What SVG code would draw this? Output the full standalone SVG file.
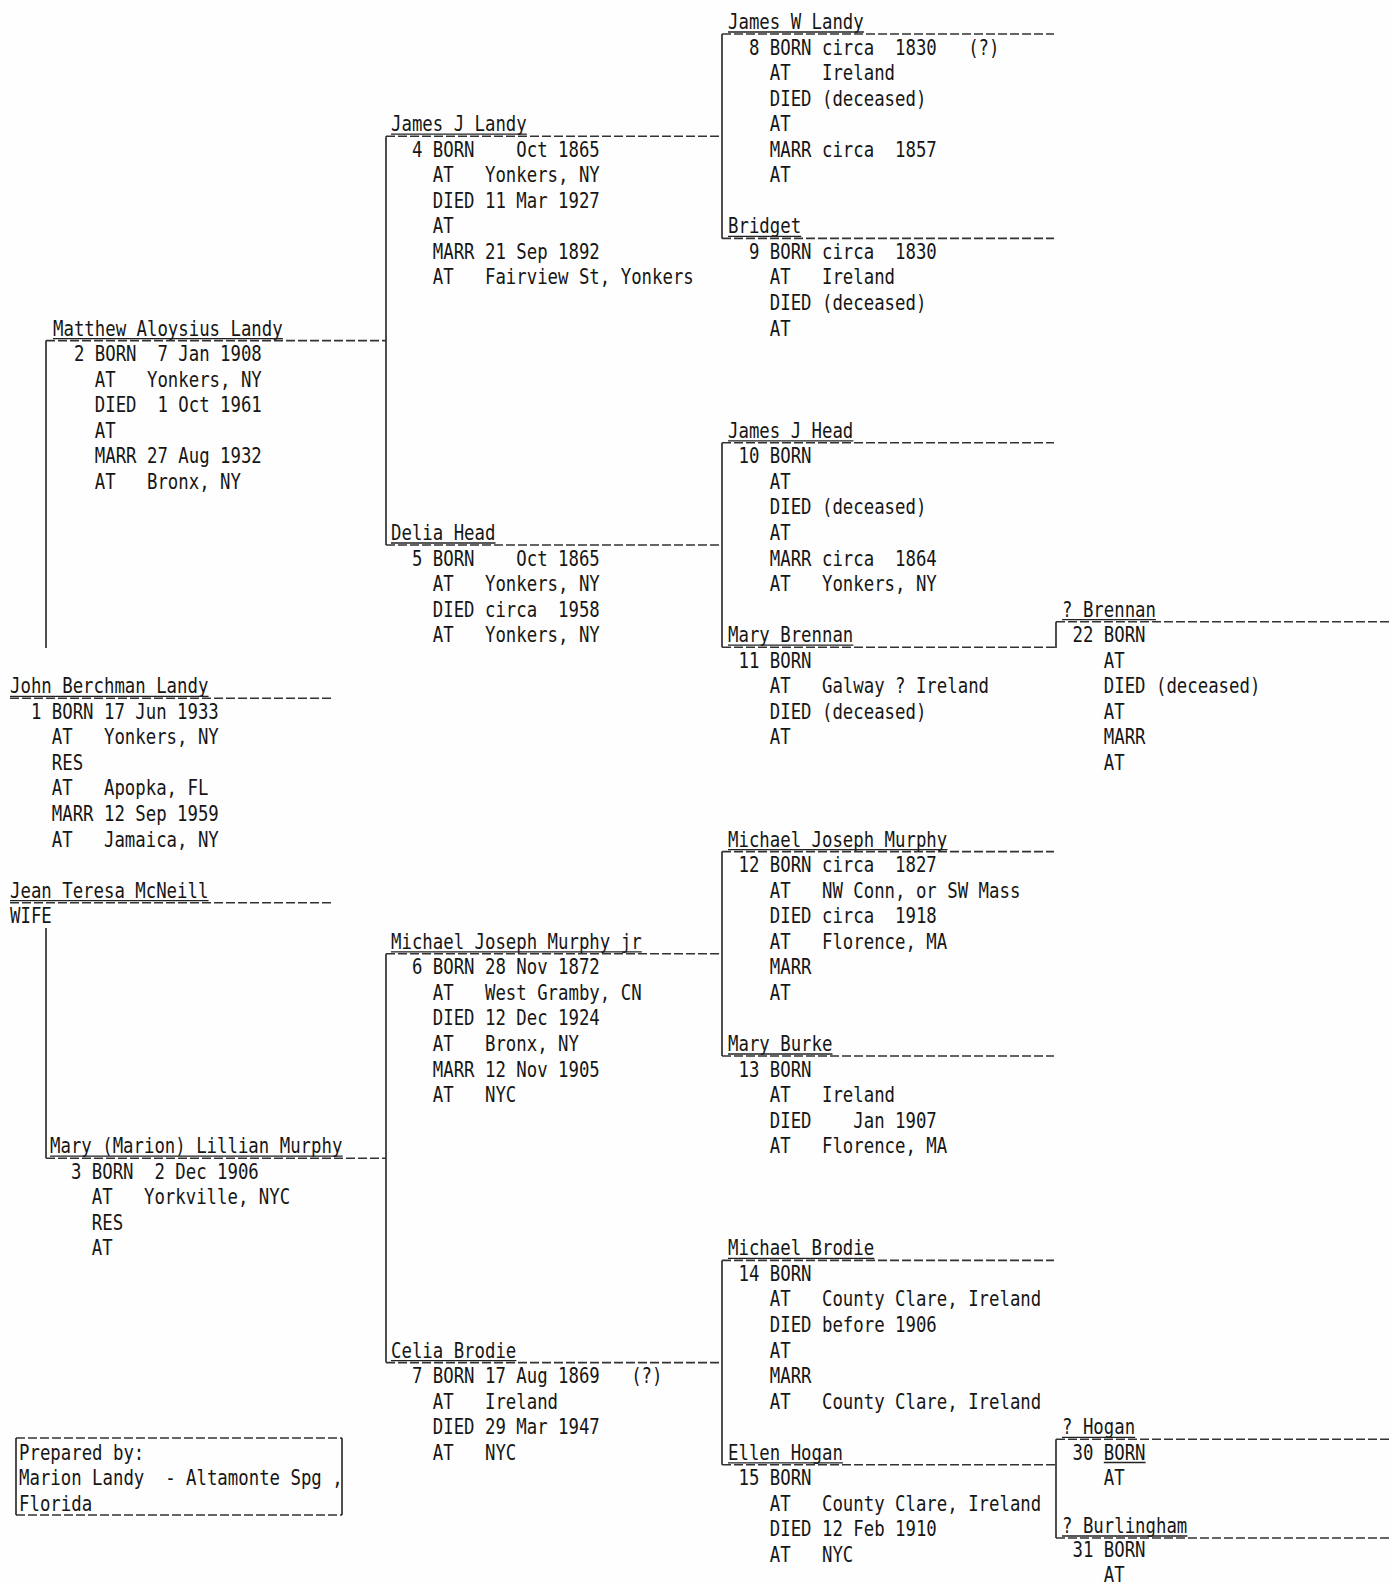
<svg xmlns="http://www.w3.org/2000/svg" width="1390" height="1585" viewBox="0 0 1390 1585">
<style>
text{font-family:"DejaVu Sans Mono","Liberation Mono",monospace;font-size:22px;fill:#161616;white-space:pre}
.ul{stroke:#222;stroke-width:1.3}
.dl{stroke:#333;stroke-width:1.6;stroke-dasharray:9 3}
.v{stroke:#222;stroke-width:1.6}
</style>
<rect x="0" y="0" width="1390" height="1585" fill="#fefefe"/>
<g id="connectors">
<line class="v" x1="46" y1="340.6" x2="46" y2="648"/>
<line class="v" x1="46" y1="928" x2="46" y2="1158.2"/>
<line class="v" x1="386" y1="136.2" x2="386" y2="545"/>
<line class="v" x1="386" y1="953.8" x2="386" y2="1362.6"/>
<line class="v" x1="722" y1="34" x2="722" y2="238.4"/>
<line class="v" x1="722" y1="442.8" x2="722" y2="647.2"/>
<line class="v" x1="722" y1="851.6" x2="722" y2="1056"/>
<line class="v" x1="722" y1="1260.4" x2="722" y2="1464.8"/>
<line class="v" x1="1056" y1="621.7" x2="1056" y2="648"/>
<line class="v" x1="1056" y1="1439.3" x2="1056" y2="1538"/>
</g>
<g id="p1"><text transform="translate(10 693.3) scale(0.789 1)" xml:space="preserve"><tspan x="0" y="0">John Berchman Landy</tspan><tspan x="0" y="25.55">  1 BORN 17 Jun 1933</tspan><tspan x="0" y="51.1">    AT   Yonkers, NY</tspan><tspan x="0" y="76.65">    RES</tspan><tspan x="0" y="102.2">    AT   Apopka, FL</tspan><tspan x="0" y="127.75">    MARR 12 Sep 1959</tspan><tspan x="0" y="153.3">    AT   Jamaica, NY</tspan></text><line class="ul" x1="10" y1="696.3" x2="208.6" y2="696.3"/><line class="dl" x1="10" y1="698.3" x2="333" y2="698.3"/></g>
<g id="spouse"><text transform="translate(10 897.7) scale(0.789 1)" xml:space="preserve"><tspan x="0" y="0">Jean Teresa McNeill</tspan><tspan x="0" y="25.55">WIFE</tspan></text><line class="ul" x1="10" y1="900.7" x2="208.6" y2="900.7"/><line class="dl" x1="10" y1="902.7" x2="333" y2="902.7"/></g>
<g id="p2"><text transform="translate(53 335.6) scale(0.789 1)" xml:space="preserve"><tspan x="0" y="0">Matthew Aloysius Landy</tspan><tspan x="0" y="25.55">  2 BORN  7 Jan 1908</tspan><tspan x="0" y="51.1">    AT   Yonkers, NY</tspan><tspan x="0" y="76.65">    DIED  1 Oct 1961</tspan><tspan x="0" y="102.2">    AT</tspan><tspan x="0" y="127.75">    MARR 27 Aug 1932</tspan><tspan x="0" y="153.3">    AT   Bronx, NY</tspan></text><line class="ul" x1="53" y1="338.6" x2="282.9" y2="338.6"/><line class="dl" x1="46" y1="340.6" x2="386" y2="340.6"/></g>
<g id="p3"><text transform="translate(50 1153.2) scale(0.789 1)" xml:space="preserve"><tspan x="0" y="0">Mary (Marion) Lillian Murphy</tspan><tspan x="0" y="25.55">  3 BORN  2 Dec 1906</tspan><tspan x="0" y="51.1">    AT   Yorkville, NYC</tspan><tspan x="0" y="76.65">    RES</tspan><tspan x="0" y="102.2">    AT</tspan></text><line class="ul" x1="50" y1="1156.2" x2="342.6" y2="1156.2"/><line class="dl" x1="46" y1="1158.2" x2="386" y2="1158.2"/></g>
<g id="p4"><text transform="translate(391 131.2) scale(0.789 1)" xml:space="preserve"><tspan x="0" y="0">James J Landy</tspan><tspan x="0" y="25.55">  4 BORN    Oct 1865</tspan><tspan x="0" y="51.1">    AT   Yonkers, NY</tspan><tspan x="0" y="76.65">    DIED 11 Mar 1927</tspan><tspan x="0" y="102.2">    AT</tspan><tspan x="0" y="127.75">    MARR 21 Sep 1892</tspan><tspan x="0" y="153.3">    AT   Fairview St, Yonkers</tspan></text><line class="ul" x1="391" y1="134.2" x2="526.9" y2="134.2"/><line class="dl" x1="386" y1="136.2" x2="722" y2="136.2"/></g>
<g id="p5"><text transform="translate(391 540) scale(0.789 1)" xml:space="preserve"><tspan x="0" y="0">Delia Head</tspan><tspan x="0" y="25.55">  5 BORN    Oct 1865</tspan><tspan x="0" y="51.1">    AT   Yonkers, NY</tspan><tspan x="0" y="76.65">    DIED circa  1958</tspan><tspan x="0" y="102.2">    AT   Yonkers, NY</tspan></text><line class="ul" x1="391" y1="543" x2="495.5" y2="543"/><line class="dl" x1="386" y1="545" x2="722" y2="545"/></g>
<g id="p6"><text transform="translate(391 948.8) scale(0.789 1)" xml:space="preserve"><tspan x="0" y="0">Michael Joseph Murphy jr</tspan><tspan x="0" y="25.55">  6 BORN 28 Nov 1872</tspan><tspan x="0" y="51.1">    AT   West Gramby, CN</tspan><tspan x="0" y="76.65">    DIED 12 Dec 1924</tspan><tspan x="0" y="102.2">    AT   Bronx, NY</tspan><tspan x="0" y="127.75">    MARR 12 Nov 1905</tspan><tspan x="0" y="153.3">    AT   NYC</tspan></text><line class="ul" x1="391" y1="951.8" x2="641.8" y2="951.8"/><line class="dl" x1="386" y1="953.8" x2="722" y2="953.8"/></g>
<g id="p7"><text transform="translate(391 1357.6) scale(0.789 1)" xml:space="preserve"><tspan x="0" y="0">Celia Brodie</tspan><tspan x="0" y="25.55">  7 BORN 17 Aug 1869   (?)</tspan><tspan x="0" y="51.1">    AT   Ireland</tspan><tspan x="0" y="76.65">    DIED 29 Mar 1947</tspan><tspan x="0" y="102.2">    AT   NYC</tspan></text><line class="ul" x1="391" y1="1360.6" x2="516.4" y2="1360.6"/><line class="dl" x1="386" y1="1362.6" x2="722" y2="1362.6"/></g>
<g id="p8"><text transform="translate(728 29) scale(0.789 1)" xml:space="preserve"><tspan x="0" y="0">James W Landy</tspan><tspan x="0" y="25.55">  8 BORN circa  1830   (?)</tspan><tspan x="0" y="51.1">    AT   Ireland</tspan><tspan x="0" y="76.65">    DIED (deceased)</tspan><tspan x="0" y="102.2">    AT</tspan><tspan x="0" y="127.75">    MARR circa  1857</tspan><tspan x="0" y="153.3">    AT</tspan></text><line class="ul" x1="728" y1="32" x2="863.9" y2="32"/><line class="dl" x1="722" y1="34" x2="1054" y2="34"/></g>
<g id="p9"><text transform="translate(728 233.4) scale(0.789 1)" xml:space="preserve"><tspan x="0" y="0">Bridget</tspan><tspan x="0" y="25.55">  9 BORN circa  1830</tspan><tspan x="0" y="51.1">    AT   Ireland</tspan><tspan x="0" y="76.65">    DIED (deceased)</tspan><tspan x="0" y="102.2">    AT</tspan></text><line class="ul" x1="728" y1="236.4" x2="801.2" y2="236.4"/><line class="dl" x1="722" y1="238.4" x2="1054" y2="238.4"/></g>
<g id="p10"><text transform="translate(728 437.8) scale(0.789 1)" xml:space="preserve"><tspan x="0" y="0">James J Head</tspan><tspan x="0" y="25.55"> 10 BORN</tspan><tspan x="0" y="51.1">    AT</tspan><tspan x="0" y="76.65">    DIED (deceased)</tspan><tspan x="0" y="102.2">    AT</tspan><tspan x="0" y="127.75">    MARR circa  1864</tspan><tspan x="0" y="153.3">    AT   Yonkers, NY</tspan></text><line class="ul" x1="728" y1="440.8" x2="853.4" y2="440.8"/><line class="dl" x1="722" y1="442.8" x2="1054" y2="442.8"/></g>
<g id="p11"><text transform="translate(728 642.2) scale(0.789 1)" xml:space="preserve"><tspan x="0" y="0">Mary Brennan</tspan><tspan x="0" y="25.55"> 11 BORN</tspan><tspan x="0" y="51.1">    AT   Galway ? Ireland</tspan><tspan x="0" y="76.65">    DIED (deceased)</tspan><tspan x="0" y="102.2">    AT</tspan></text><line class="ul" x1="728" y1="645.2" x2="853.4" y2="645.2"/><line class="dl" x1="722" y1="647.2" x2="1056" y2="647.2"/></g>
<g id="p12"><text transform="translate(728 846.6) scale(0.789 1)" xml:space="preserve"><tspan x="0" y="0">Michael Joseph Murphy</tspan><tspan x="0" y="25.55"> 12 BORN circa  1827</tspan><tspan x="0" y="51.1">    AT   NW Conn, or SW Mass</tspan><tspan x="0" y="76.65">    DIED circa  1918</tspan><tspan x="0" y="102.2">    AT   Florence, MA</tspan><tspan x="0" y="127.75">    MARR</tspan><tspan x="0" y="153.3">    AT</tspan></text><line class="ul" x1="728" y1="849.6" x2="947.5" y2="849.6"/><line class="dl" x1="722" y1="851.6" x2="1054" y2="851.6"/></g>
<g id="p13"><text transform="translate(728 1051) scale(0.789 1)" xml:space="preserve"><tspan x="0" y="0">Mary Burke</tspan><tspan x="0" y="25.55"> 13 BORN</tspan><tspan x="0" y="51.1">    AT   Ireland</tspan><tspan x="0" y="76.65">    DIED    Jan 1907</tspan><tspan x="0" y="102.2">    AT   Florence, MA</tspan></text><line class="ul" x1="728" y1="1054" x2="832.5" y2="1054"/><line class="dl" x1="722" y1="1056" x2="1054" y2="1056"/></g>
<g id="p14"><text transform="translate(728 1255.4) scale(0.789 1)" xml:space="preserve"><tspan x="0" y="0">Michael Brodie</tspan><tspan x="0" y="25.55"> 14 BORN</tspan><tspan x="0" y="51.1">    AT   County Clare, Ireland</tspan><tspan x="0" y="76.65">    DIED before 1906</tspan><tspan x="0" y="102.2">    AT</tspan><tspan x="0" y="127.75">    MARR</tspan><tspan x="0" y="153.3">    AT   County Clare, Ireland</tspan></text><line class="ul" x1="728" y1="1258.4" x2="874.3" y2="1258.4"/><line class="dl" x1="722" y1="1260.4" x2="1054" y2="1260.4"/></g>
<g id="p15"><text transform="translate(728 1459.8) scale(0.789 1)" xml:space="preserve"><tspan x="0" y="0">Ellen Hogan</tspan><tspan x="0" y="25.55"> 15 BORN</tspan><tspan x="0" y="51.1">    AT   County Clare, Ireland</tspan><tspan x="0" y="76.65">    DIED 12 Feb 1910</tspan><tspan x="0" y="102.2">    AT   NYC</tspan></text><line class="ul" x1="728" y1="1462.8" x2="843" y2="1462.8"/><line class="dl" x1="722" y1="1464.8" x2="1056" y2="1464.8"/></g>
<g id="p22"><text transform="translate(1062 616.7) scale(0.789 1)" xml:space="preserve"><tspan x="0" y="0">? Brennan</tspan><tspan x="0" y="25.55"> 22 BORN</tspan><tspan x="0" y="51.1">    AT</tspan><tspan x="0" y="76.65">    DIED (deceased)</tspan><tspan x="0" y="102.2">    AT</tspan><tspan x="0" y="127.75">    MARR</tspan><tspan x="0" y="153.3">    AT</tspan></text><line class="ul" x1="1062" y1="619.7" x2="1156" y2="619.7"/><line class="dl" x1="1056" y1="621.7" x2="1390" y2="621.7"/></g>
<g id="p30"><text transform="translate(1062 1434.3) scale(0.789 1)" xml:space="preserve"><tspan x="0" y="0">? Hogan</tspan><tspan x="0" y="25.55"> 30 BORN</tspan><tspan x="0" y="51.1">    AT</tspan></text><line class="ul" x1="1062" y1="1437.3" x2="1135.2" y2="1437.3"/><line class="dl" x1="1056" y1="1439.3" x2="1390" y2="1439.3"/><line class="ul" x1="1103.8" y1="1462.5" x2="1145.6" y2="1462.5"/></g>
<g id="p31"><text transform="translate(1062 1533) scale(0.789 1)" xml:space="preserve"><tspan x="0" y="0">? Burlingham</tspan><tspan x="0" y="24.5"> 31 BORN</tspan><tspan x="0" y="49">    AT</tspan></text><line class="ul" x1="1062" y1="1536" x2="1187.4" y2="1536"/><line class="dl" x1="1056" y1="1538" x2="1390" y2="1538"/></g>
<g id="preparer">
<line class="dl" x1="16" y1="1438" x2="342" y2="1438"/>
<line class="dl" x1="16" y1="1515" x2="342" y2="1515"/>
<line class="v" x1="16" y1="1438" x2="16" y2="1515"/>
<line class="v" x1="342" y1="1438" x2="342" y2="1515"/>
<text transform="translate(19 1459.8) scale(0.789 1)" xml:space="preserve"><tspan x="0" y="0">Prepared by:</tspan><tspan x="0" y="25.55">Marion Landy  - Altamonte Spg ,</tspan><tspan x="0" y="51.1">Florida</tspan></text>
</g>
</svg>
